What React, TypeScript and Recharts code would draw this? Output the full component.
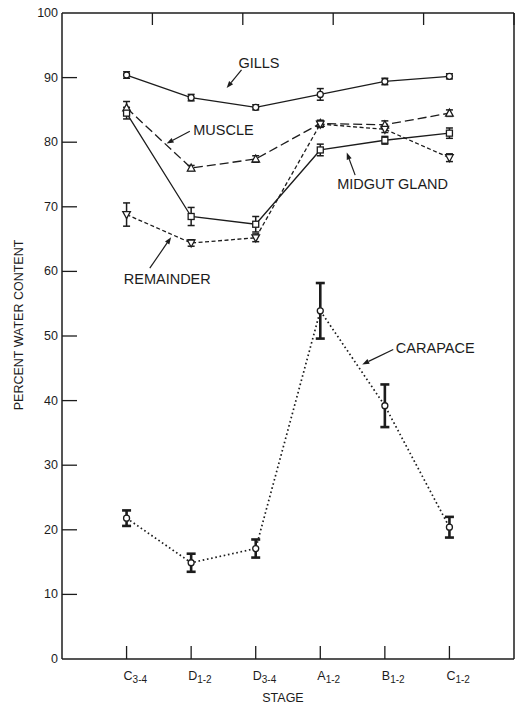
import React from 'react';
import { LineChart, Line, XAxis, YAxis, ErrorBar, ReferenceLine, ReferenceDot, Label } from 'recharts';

const stageMain = ['C', 'D', 'D', 'A', 'B', 'C'];
const stageSub = ['3-4', '1-2', '3-4', '1-2', '1-2', '1-2'];
const stagePos = [1, 2, 3, 4, 5, 6];

const gills = [90.4, 86.9, 85.4, 87.4, 89.4, 90.2];
const gillsErr = [0.5, 0.5, 0.4, 0.9, 0.5, 0.4];
const muscle = [85.3, 76.0, 77.4, 82.9, 82.7, 84.5];
const muscleErr = [1.0, 0.4, 0.5, 0.5, 0.6, 0.5];
const midgut = [84.5, 68.5, 67.3, 78.8, 80.3, 81.4];
const midgutErr = [0.9, 1.4, 1.2, 0.9, 0.6, 0.8];
const remainder = [68.8, 64.4, 65.2, 82.8, 82.0, 77.6];
const remainderErr = [1.8, 0.5, 0.6, 0.5, 0.5, 0.6];
const carapace = [21.8, 14.9, 17.1, 53.9, 39.2, 20.4];
const carapaceErr = [1.2, 1.4, 1.4, 4.3, 3.3, 1.6];

const yTicks = [0, 10, 20, 30, 40, 50, 60, 70, 80, 90, 100];
const yTicksRight = [10, 20, 30, 40, 50, 60, 70, 80, 90];

// annotation labels (data coordinates) and arrows (data coordinates)
const annLabels = [
  { x: 3.05, y: 92.3, text: 'GILLS' },
  { x: 2.5, y: 81.9, text: 'MUSCLE' },
  { x: 5.12, y: 73.6, text: 'MIDGUT GLAND' },
  { x: 1.63, y: 58.9, text: 'REMAINDER' },
  { x: 5.78, y: 48.1, text: 'CARAPACE' },
];
const annArrows = [
  { x1: 2.78, y1: 91.2, x2: 2.55, y2: 88.4 },
  { x1: 1.98, y1: 81.7, x2: 1.62, y2: 79.8 },
  { x1: 4.54, y1: 74.9, x2: 4.41, y2: 78.4 },
  { x1: 1.36, y1: 60.5, x2: 1.69, y2: 65.3 },
  { x1: 5.13, y1: 47.9, x2: 4.65, y2: 45.6 },
];

const rows = stagePos.map((p, i) => ({
  x: p,
  gills: gills[i], gillsErr: gillsErr[i],
  muscle: muscle[i], muscleErr: muscleErr[i],
  midgut: midgut[i], midgutErr: midgutErr[i],
  remainder: remainder[i], remainderErr: remainderErr[i],
  carapace: carapace[i], carapaceErr: carapaceErr[i],
}));

const INK = '#1c1c1c';
const FONT = '"Liberation Sans", Arial, sans-serif';

const CircleDot = (p: any) => (
  <circle key={`c${p.index}-${p.dataKey}`} cx={p.cx} cy={p.cy} r={3} fill="#fff" stroke={INK} strokeWidth={1.3} />
);
const TriUp = (p: any) => (
  <polygon key={`t${p.index}`} points={`${p.cx},${p.cy - 4} ${p.cx - 3.8},${p.cy + 3} ${p.cx + 3.8},${p.cy + 3}`} fill="#fff" stroke={INK} strokeWidth={1.3} />
);
const TriDown = (p: any) => (
  <polygon key={`d${p.index}`} points={`${p.cx},${p.cy + 4} ${p.cx - 3.8},${p.cy - 3} ${p.cx + 3.8},${p.cy - 3}`} fill="#fff" stroke={INK} strokeWidth={1.3} />
);
const SquareDot = (p: any) => (
  <rect key={`s${p.index}`} x={p.cx - 3} y={p.cy - 3} width={6} height={6} fill="#fff" stroke={INK} strokeWidth={1.3} />
);

const LeftTick = (p: any) => {
  const ax = p.x + 4;
  return (
    <g>
      <text x={p.x} y={p.y} textAnchor="end" dominantBaseline="central" fontSize={12.5} fill={INK} fontFamily={FONT}>
        {p.payload.value}
      </text>
      {p.payload.value !== 0 && p.payload.value !== 100 ? (
        <line x1={ax} y1={p.y} x2={ax + 15} y2={p.y} stroke={INK} strokeWidth={1.3} />
      ) : null}
    </g>
  );
};
const RightTick = (p: any) => (
  <line x1={p.x - 11} y1={p.y} x2={p.x} y2={p.y} stroke={INK} strokeWidth={1.3} />
);
const TopTick = (p: any) => (
  <line x1={p.x} y1={p.y} x2={p.x} y2={p.y + 12} stroke={INK} strokeWidth={1.3} />
);
const BottomTick = (p: any) => {
  const i = stagePos.indexOf(p.payload.value);
  return (
    <g>
      <line x1={p.x} y1={p.y} x2={p.x} y2={p.y - 13} stroke={INK} strokeWidth={1.3} />
      <text x={p.x - 3} y={p.y + 21} fontSize={12.5} fill={INK} fontFamily={FONT}>
        {stageMain[i]}
        <tspan fontSize={10} dy={3}>{stageSub[i]}</tspan>
      </text>
    </g>
  );
};

const AnnText = (text: string) => (p: any) => (
  <text x={p.cx} y={p.cy} textAnchor="middle" dominantBaseline="central" fontSize={14.5} fill={INK} fontFamily={FONT}>
    {text}
  </text>
);
const Arrow = (p: any) => {
  const { x1, y1, x2, y2 } = p;
  const dx = x2 - x1, dy = y2 - y1;
  const len = Math.sqrt(dx * dx + dy * dy) || 1;
  const ux = dx / len, uy = dy / len;
  const hl = 7, hw = 2.6;
  const bx = x2 - ux * hl, by = y2 - uy * hl;
  const pts = `${x2},${y2} ${bx - uy * hw},${by + ux * hw} ${bx + uy * hw},${by - ux * hw}`;
  return (
    <g>
      <line x1={x1} y1={y1} x2={bx} y2={by} stroke={INK} strokeWidth={1.2} />
      <polygon points={pts} fill={INK} />
    </g>
  );
};

const YLabel = (p: any) => {
  const vb = p.viewBox || { y: 13, height: 646 };
  const cy = vb.y + vb.height / 2 - 11;
  return (
    <text x={19} y={cy} transform={`rotate(-90, 19, ${cy})`} textAnchor="middle" dominantBaseline="central" fontSize={12.5} fill={INK} fontFamily={FONT}>
      PERCENT WATER CONTENT
    </text>
  );
};

export default function App() {
  return (
    <div style={{ position: 'absolute', left: 0, top: 0, background: '#fff' }}>
      <LineChart width={521} height={705} data={rows} margin={{ top: 0, right: 0, bottom: 0, left: 0 }}>
        <XAxis
          dataKey="x"
          type="number"
          domain={[0, 7]}
          ticks={stagePos}
          height={46}
          tickSize={0}
          tickMargin={0}
          tickLine={false}
          axisLine={{ stroke: INK, strokeWidth: 1.5 }}
          tick={<BottomTick />}
          interval={0}
          allowDecimals={false}
        >
          <Label value="STAGE" position="insideBottom" offset={3} dx={-5} fontSize={12.5} fill={INK} fontFamily={FONT} />
        </XAxis>
        <XAxis
          xAxisId="top"
          orientation="top"
          type="number"
          domain={[0, 7]}
          ticks={stagePos}
          height={13}
          tickSize={0}
          tickMargin={0}
          tickLine={false}
          axisLine={{ stroke: INK, strokeWidth: 1.5 }}
          tick={<TopTick />}
          interval={0}
        />
        <YAxis
          type="number"
          domain={[0, 100]}
          ticks={yTicks}
          width={62}
          tickSize={0}
          tickMargin={4}
          tickLine={false}
          axisLine={{ stroke: INK, strokeWidth: 1.5 }}
          tick={<LeftTick />}
          interval={0}
        >
          <Label content={<YLabel />} />
        </YAxis>
        <YAxis
          yAxisId="right"
          orientation="right"
          type="number"
          domain={[0, 100]}
          ticks={yTicksRight}
          width={7}
          tickSize={0}
          tickMargin={0}
          tickLine={false}
          axisLine={{ stroke: INK, strokeWidth: 1.5 }}
          tick={<RightTick />}
          interval={0}
        />

        <Line dataKey="gills" stroke={INK} strokeWidth={1.3} dot={CircleDot} activeDot={false} isAnimationActive={false}>
          <ErrorBar dataKey="gillsErr" direction="y" width={3.5} strokeWidth={1.5} stroke={INK} />
        </Line>
        <Line dataKey="muscle" stroke={INK} strokeWidth={1.3} strokeDasharray="9 4" dot={TriUp} activeDot={false} isAnimationActive={false}>
          <ErrorBar dataKey="muscleErr" direction="y" width={3.5} strokeWidth={1.5} stroke={INK} />
        </Line>
        <Line dataKey="midgut" stroke={INK} strokeWidth={1.3} dot={SquareDot} activeDot={false} isAnimationActive={false}>
          <ErrorBar dataKey="midgutErr" direction="y" width={3.5} strokeWidth={1.5} stroke={INK} />
        </Line>
        <Line dataKey="remainder" stroke={INK} strokeWidth={1.3} strokeDasharray="4 2.5" dot={TriDown} activeDot={false} isAnimationActive={false}>
          <ErrorBar dataKey="remainderErr" direction="y" width={3.5} strokeWidth={1.5} stroke={INK} />
        </Line>
        <Line dataKey="carapace" stroke={INK} strokeWidth={1.7} strokeDasharray="1.6 2.7" dot={CircleDot} activeDot={false} isAnimationActive={false}>
          <ErrorBar dataKey="carapaceErr" direction="y" width={4.5} strokeWidth={2.6} stroke={INK} />
        </Line>

        {annArrows.map((a, i) => (
          <ReferenceLine key={`a${i}`} segment={[{ x: a.x1, y: a.y1 }, { x: a.x2, y: a.y2 }]} shape={Arrow} />
        ))}
        {annLabels.map((a, i) => (
          <ReferenceDot key={`l${i}`} x={a.x} y={a.y} r={1} shape={AnnText(a.text)} />
        ))}
      </LineChart>
    </div>
  );
}
